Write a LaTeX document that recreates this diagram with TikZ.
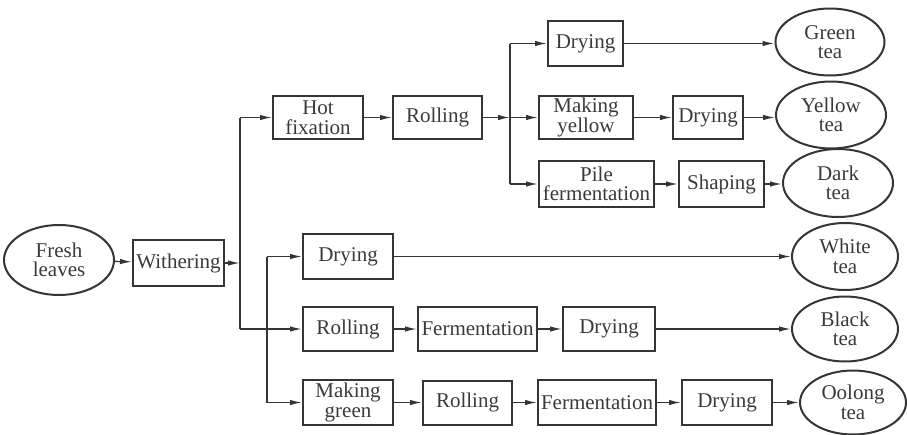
\documentclass[tikz,border=0pt]{standalone}
\usepackage{fontspec}
\setmainfont{Liberation Serif}
\usetikzlibrary{shapes.geometric,arrows.meta}
\definecolor{ln}{HTML}{353535}
\definecolor{tx}{HTML}{3A3A3A}
\tikzset{
  box/.style={draw=ln,line width=2pt,rectangle,inner sep=0pt,align=center,text=tx,
    font=\fontsize{21}{19.5}\selectfont},
  oval/.style={draw=ln,line width=2pt,ellipse,inner sep=0pt,align=center,text=tx,
    font=\fontsize{21}{19.5}\selectfont},
  arr/.style={draw=ln,line width=1.4pt,-{Latex[length=12pt,width=5.5pt]}},
  ln/.style={draw=ln,line width=1.4pt}
}
\begin{document}
\begin{tikzpicture}[x=1pt,y=-1pt]
\useasboundingbox (0,0) rectangle (907,434);
% nodes
\node[oval,minimum width=110,minimum height=70] (fresh) at (59,260) {Fresh\\leaves};
\node[box,minimum width=91,minimum height=46] (wither) at (178.5,263) {Withering};
\node[box,minimum width=90,minimum height=43] (hot) at (318,117.5) {Hot\\fixation};
\node[box,minimum width=89,minimum height=43] (roll1) at (437.5,117.5) {Rolling};
\coordinate (jn) at (510,117.5);
\node[box,minimum width=75,minimum height=45] (dry1) at (585.5,43.5) {Drying};
\node[box,minimum width=94,minimum height=43] (myel) at (586,117.5) {Making\\yellow};
\node[box,minimum width=70,minimum height=43] (dry2) at (708,117.5) {Drying};
\node[box,minimum width=115,minimum height=46] (pile) at (596.5,184) {Pile\\fermentation};
\node[box,minimum width=85,minimum height=46] (shap) at (721.5,184) {Shaping};
\node[oval,minimum width=109,minimum height=67] (green) at (830,42) {Green\\tea};
\node[oval,minimum width=110,minimum height=67] (yellow) at (831,115) {Yellow\\tea};
\node[oval,minimum width=110,minimum height=68] (dark) at (838,183) {Dark\\tea};
\node[box,minimum width=90,minimum height=45] (drw) at (348,256.5) {Drying};
\node[box,minimum width=90,minimum height=44] (rollb) at (348,329) {Rolling};
\node[box,minimum width=119,minimum height=44] (ferb) at (477.5,329) {Fermentation};
\node[box,minimum width=92,minimum height=44] (dryb) at (609,329) {Drying};
\node[box,minimum width=90,minimum height=45] (mgreen) at (348,402.5) {Making\\green};
\node[box,minimum width=89,minimum height=44] (rollo) at (467.5,402.5) {Rolling};
\node[box,minimum width=118,minimum height=45] (fero) at (597,402.5) {Fermentation};
\node[box,minimum width=90,minimum height=45] (dryo) at (727,402.5) {Drying};
\node[oval,minimum width=106,minimum height=67] (white) at (845,256.5) {White\\tea};
\node[oval,minimum width=106,minimum height=65] (black) at (845,329) {Black\\tea};
\node[oval,minimum width=106,minimum height=64] (oolong) at (853,402.5) {Oolong\\tea};
% trunk coordinates
\coordinate (t1top) at (240,117.5);
\coordinate (t1mid) at (240,263);
\coordinate (t1bot) at (240,329);
\coordinate (t2top) at (267,256.5);
\coordinate (t2bot) at (267,402.5);
\coordinate (jtop) at (510,43.5);
\coordinate (jbot) at (510,184);
% connectors
\draw[arr] (fresh) -- (wither);
\draw[arr] (wither.east) -- (t1mid);
\draw[ln] (t1top) -- (t1bot);
\draw[arr] (t1top) -- (hot.west);
\draw[arr] (t1bot) -- (rollb.west);
\draw[ln] (t2top) -- (t2bot);
\draw[arr] (t2top) -- (drw.west);
\draw[arr] (t2bot) -- (mgreen.west);
\draw[arr] (hot) -- (roll1);
\draw[arr] (roll1.east) -- (jn);
\draw[ln] (jtop) -- (jbot);
\draw[arr] (jtop) -- (dry1.west);
\draw[arr] (jn) -- (myel.west);
\draw[arr] (jbot) -- (pile.west);
\draw[arr] (dry1.east) -- (green.west |- dry1.east);
\draw[arr] (myel) -- (dry2);
\draw[arr] (dry2.east) -- (yellow.west |- dry2.east);
\draw[arr] (pile) -- (shap);
\draw[arr] (shap.east) -- (dark.west |- shap.east);
\draw[arr] (drw.east) -- (white.west |- drw.east);
\draw[arr] (rollb) -- (ferb);
\draw[arr] (ferb) -- (dryb);
\draw[arr] (dryb.east) -- (black.west |- dryb.east);
\draw[arr] (mgreen) -- (rollo);
\draw[arr] (rollo) -- (fero);
\draw[arr] (fero) -- (dryo);
\draw[arr] (dryo.east) -- (oolong.west |- dryo.east);
\end{tikzpicture}
\end{document}
